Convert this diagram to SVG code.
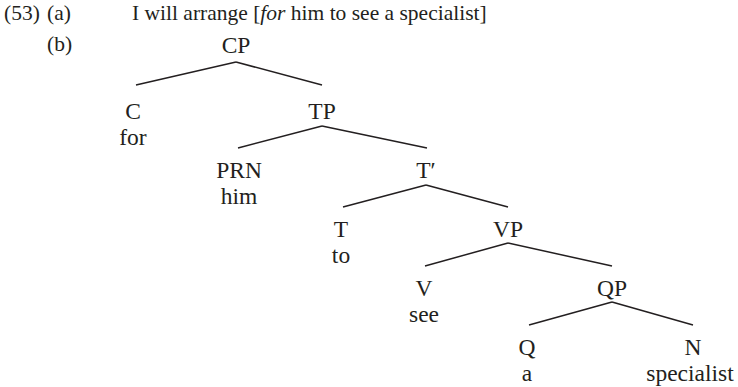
<svg xmlns="http://www.w3.org/2000/svg" width="738" height="387" viewBox="0 0 738 387" font-family="'Liberation Serif', 'Times New Roman', serif">
<style>
text{font-family:"Liberation Serif","Times New Roman",serif;font-size:21.5px;fill:#231f20}
text.n{text-anchor:middle;font-size:23.5px}
line{stroke:#231f20;stroke-width:1.5}
</style>
<rect width="738" height="387" fill="#fff"/>
<text x="4" y="20">(53)</text>
<text x="47" y="20">(a)</text>
<text x="132" y="20">I will arrange [<tspan font-style="italic">for</tspan> him to see a specialist]</text>
<text x="47" y="51">(b)</text>
<g id="connectors">
<line x1="236" y1="62" x2="136" y2="85"/>
<line x1="236" y1="62" x2="322" y2="85"/>
<line x1="322" y1="126" x2="238" y2="148"/>
<line x1="322" y1="126" x2="427" y2="148"/>
<line x1="426" y1="185" x2="343" y2="207"/>
<line x1="426" y1="185" x2="508" y2="207"/>
<line x1="508" y1="243" x2="425" y2="266"/>
<line x1="508" y1="243" x2="612" y2="266"/>
<line x1="612" y1="302" x2="529" y2="325"/>
<line x1="612" y1="302" x2="693" y2="325"/>
</g>
<g id="CP"><text class="n" x="236" y="53">CP</text></g>
<g id="C"><text class="n" x="133" y="119">C</text><text class="n" x="133" y="145">for</text></g>
<g id="TP"><text class="n" x="322" y="119">TP</text></g>
<g id="PRN"><text class="n" x="239" y="178">PRN</text><text class="n" x="239" y="204">him</text></g>
<g id="Tbar"><text class="n" x="426" y="178">T′</text></g>
<g id="T"><text class="n" x="341" y="237">T</text><text class="n" x="341" y="263">to</text></g>
<g id="VP"><text class="n" x="508" y="237">VP</text></g>
<g id="V"><text class="n" x="424" y="296">V</text><text class="n" x="424" y="322">see</text></g>
<g id="QP"><text class="n" x="612" y="296">QP</text></g>
<g id="Q"><text class="n" x="527" y="355">Q</text><text class="n" x="527" y="381">a</text></g>
<g id="N"><text class="n" x="693" y="355">N</text><text class="n" x="690" y="381">specialist</text></g>
</svg>
